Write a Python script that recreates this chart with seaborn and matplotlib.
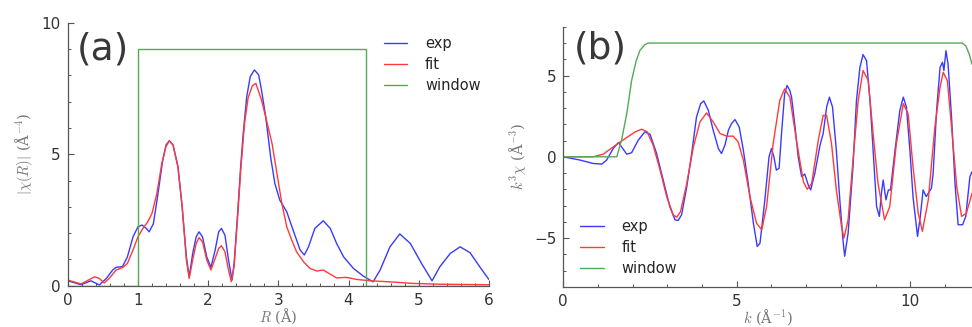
import numpy as np
import pandas as pd
import matplotlib
matplotlib.use("Agg")
import matplotlib.pyplot as plt
from matplotlib.ticker import MultipleLocator
import seaborn as sns

# ---- panel (a): |chi(R)| ----
r_exp = [0, 0.19, 0.33, 0.45, 0.55, 0.64, 0.69, 0.78, 0.85, 0.93, 1.0, 1.06, 1.12, 1.16, 1.22,
         1.28, 1.35, 1.40, 1.447, 1.50, 1.57, 1.63, 1.69, 1.73, 1.78, 1.83, 1.87, 1.92, 1.98,
         2.04, 2.10, 2.15, 2.19, 2.24, 2.29, 2.34, 2.37, 2.42, 2.46, 2.50, 2.55, 2.60, 2.66,
         2.72, 2.76, 2.82, 2.89, 2.95, 3.02, 3.12, 3.21, 3.31, 3.37, 3.43, 3.52, 3.64, 3.74,
         3.83, 3.93, 4.07, 4.21, 4.35, 4.45, 4.59, 4.73, 4.88, 5.04, 5.19, 5.30, 5.45, 5.59,
         5.73, 5.87, 6.0]
chir_exp = [0.19, 0.04, 0.19, 0.03, 0.28, 0.6, 0.7, 0.73, 1.10, 1.86, 2.24, 2.31, 2.18, 2.05, 2.36,
            3.40, 4.72, 5.35, 5.51, 5.35, 4.52, 3.0, 1.1, 0.34, 1.23, 1.86, 2.05, 1.86, 1.10,
            0.70, 1.36, 2.05, 2.18, 1.92, 0.98, 0.22, 0.85, 2.75, 4.4, 5.79, 7.19, 7.95, 8.2,
            8.01, 7.44, 6.43, 4.90, 3.89, 3.26, 2.81, 2.12, 1.36, 1.17, 1.48, 2.18, 2.47, 2.18,
            1.61, 1.10, 0.66, 0.37, 0.15, 0.60, 1.48, 1.97, 1.61, 0.85, 0.19, 0.72, 1.23, 1.48,
            1.26, 0.72, 0.24]
r_fit = [0, 0.19, 0.38, 0.45, 0.52, 0.59, 0.69, 0.78, 0.85, 0.93, 1.0, 1.07, 1.14, 1.20, 1.27,
         1.34, 1.40, 1.447, 1.50, 1.57, 1.63, 1.69, 1.73, 1.78, 1.83, 1.87, 1.92, 1.98, 2.04,
         2.10, 2.15, 2.19, 2.24, 2.29, 2.33, 2.37, 2.42, 2.47, 2.52, 2.57, 2.63, 2.68, 2.76,
         2.83, 2.91, 2.98, 3.05, 3.12, 3.19, 3.26, 3.36, 3.45, 3.55, 3.64, 3.74, 3.83, 3.97,
         4.12, 4.31, 4.59, 4.92, 5.30, 6.0]
chir_fit = [0.22, 0.07, 0.34, 0.28, 0.11, 0.28, 0.6, 0.69, 0.85, 1.36, 1.86, 2.18, 2.43, 2.75, 3.51,
            4.65, 5.29, 5.51, 5.35, 4.52, 3.0, 0.98, 0.28, 0.98, 1.61, 1.83, 1.67, 0.98, 0.6,
            1.04, 1.42, 1.52, 1.29, 0.6, 0.16, 0.72, 2.6, 4.6, 6.2, 7.15, 7.6, 7.69, 7.06,
            6.30, 5.41, 4.27, 3.13, 2.24, 1.74, 1.29, 0.91, 0.66, 0.56, 0.60, 0.44, 0.30, 0.32,
            0.24, 0.19, 0.15, 0.09, 0.06, 0.04]
r_win = [0, 1.0, 1.0, 4.25, 4.25, 6.0]
chir_win = [0, 0, 9, 9, 0, 0]

# ---- panel (b): k^3 chi(k) ----
k_exp = [0, 0.48, 0.86, 1.11, 1.25, 1.44, 1.59, 1.68, 1.83, 1.97, 2.16, 2.35, 2.50, 2.69, 2.88,
         3.07, 3.22, 3.31, 3.41, 3.56, 3.70, 3.84, 3.96, 4.05, 4.18, 4.32, 4.47, 4.56, 4.66,
         4.76, 4.85, 4.95, 5.07, 5.19, 5.33, 5.48, 5.59, 5.67, 5.81, 5.93, 6.0, 6.07, 6.14,
         6.22, 6.29, 6.38, 6.45, 6.53, 6.58, 6.68, 6.77, 6.87, 6.96, 7.06, 7.13, 7.25, 7.40,
         7.49, 7.59, 7.67, 7.76, 7.87, 7.97, 8.06, 8.11, 8.21, 8.35, 8.45, 8.55, 8.64, 8.74,
         8.84, 8.93, 9.03, 9.11, 9.17, 9.22, 9.30, 9.37, 9.43, 9.55, 9.70, 9.80, 9.89, 9.99,
         10.08, 10.21, 10.29, 10.37, 10.46, 10.61, 10.66, 10.76, 10.86, 10.93, 10.97, 11.03,
         11.09, 11.19, 11.29, 11.38, 11.51, 11.60, 11.72, 11.78]
kchi_exp = [0, -0.2, -0.41, -0.45, -0.2, 0.51, 0.88, 0.61, 0.16, 0.25, 1.02, 1.53, 1.39, 0.2, -1.43,
            -3.07, -3.88, -3.92, -3.57, -1.84, 0.2, 2.45, 3.27, 3.44, 2.86, 1.64, 0.51, 0.2, 0.72,
            1.64, 2.05, 2.29, 1.84, 0.41, -1.63, -4.09, -5.52, -5.31, -2.65, 0.0, 0.51, 0.0, -0.82,
            -0.71, 1.43, 3.88, 4.39, 4.08, 3.67, 1.84, 0.0, -1.22, -1.06, -1.73, -2.04, -1.02, 0.71,
            1.43, 3.06, 3.67, 3.06, 0.41, -2.65, -5.1, -6.12, -4.69, -0.61, 3.47, 5.51, 6.29, 5.92,
            3.47, 0.41, -3.06, -3.67, -2.24, -1.43, -2.65, -2.04, -2.04, 0.2, 2.86, 3.67, 3.06, 0.41,
            -2.45, -4.9, -3.67, -2.04, -2.45, -1.94, -1.02, 2.86, 5.51, 5.82, 5.31, 6.53,
            5.71, 2.45, -1.63, -4.18, -4.18, -3.67, -1.22, -0.92]
k_fit = [0, 0.86, 1.15, 1.44, 1.83, 2.07, 2.26, 2.42, 2.59, 2.79, 2.98, 3.17, 3.27, 3.38, 3.56,
         3.75, 3.94, 4.13, 4.32, 4.52, 4.71, 4.90, 5.04, 5.19, 5.38, 5.57, 5.72, 5.86, 6.05,
         6.24, 6.38, 6.53, 6.72, 6.92, 7.03, 7.16, 7.35, 7.49, 7.59, 7.73, 7.87, 8.02, 8.09,
         8.21, 8.35, 8.50, 8.64, 8.79, 8.93, 9.07, 9.26, 9.41, 9.60, 9.80, 9.94, 10.08, 10.23,
         10.35, 10.52, 10.71, 10.86, 10.95, 11.07, 11.19, 11.34, 11.48, 11.62, 11.78]
kchi_fit = [0, 0, 0.16, 0.61, 1.19, 1.53, 1.70, 1.53, 0.72, -0.82, -2.45, -3.58, -3.72, -3.37, -1.63,
            0.61, 2.15, 2.70, 2.15, 1.43, 1.27, 1.27, 0.92, -0.2, -2.45, -4.09, -4.49, -3.06, 0.82,
            3.47, 4.18, 3.67, 1.02, -1.53, -2.0, -1.63, 1.02, 2.55, 2.55, 0.82, -2.04, -4.29, -5.0,
            -3.88, -0.2, 3.47, 5.31, 4.69, 1.43, -1.63, -3.88, -3.06, 0.82, 3.27, 2.65, -0.61, -3.47,
            -4.59, -2.65, 1.84, 4.29, 5.2, 4.69, 1.84, -1.84, -3.67, -3.47, -2.24]
k_win = [0, 1.54, 1.68, 1.83, 1.97, 2.10, 2.21, 2.35, 2.45, 11.5, 11.6, 11.7, 11.78]
kchi_win = [0, 0, 1.02, 2.66, 4.7, 5.9, 6.55, 6.9, 7.0, 7.0, 6.83, 6.33, 5.7]

labels = ["exp", "fit", "window"]
colors = {"exp": "#3a3aff", "fit": "#ff3a3a", "window": "#55aa55"}


def long_df(xs, ys):
    parts = []
    for name, x, y in zip(labels, xs, ys):
        parts.append(pd.DataFrame({"x": x, "y": y, "series": name}))
    return pd.concat(parts, ignore_index=True)


df_a = long_df([r_exp, r_fit, r_win], [chir_exp, chir_fit, chir_win])
df_b = long_df([k_exp, k_fit, k_win], [kchi_exp, kchi_fit, kchi_win])

sns.set_style("ticks")
plt.rcParams["mathtext.fontset"] = "cm"
plt.rcParams["font.family"] = ["DejaVu Sans"]

fig = plt.figure(figsize=(9.72, 3.27), dpi=100)
ax1 = fig.add_axes([0.0697, 0.126, 0.4333, 0.805])
ax2 = fig.add_axes([0.5795, 0.123, 0.4205, 0.795])

tick_col = "#333333"
label_col = "#777777"
lab_kw = dict(color=label_col, fontsize=10.5, family="DejaVu Serif")

for ax, df in [(ax1, df_a), (ax2, df_b)]:
    sns.lineplot(data=df, x="x", y="y", hue="series", units="series", estimator=None,
                 sort=False, palette=colors, linewidth=1.0, ax=ax)
    ax.spines["top"].set_visible(False)
    ax.spines["right"].set_visible(False)
    for s in ["left", "bottom"]:
        ax.spines[s].set_color("#555555")
        ax.spines[s].set_linewidth(0.9)
    ax.tick_params(which="major", direction="in", length=4, width=0.8, colors="#555555",
                   labelcolor=tick_col, labelsize=11, pad=5)
    ax.tick_params(which="minor", direction="in", length=2.5, width=0.7, colors="#555555")

ax1.set_xlim(0, 6)
ax1.set_ylim(0, 10)
ax1.xaxis.set_major_locator(MultipleLocator(1))
ax1.xaxis.set_minor_locator(MultipleLocator(0.2))
ax1.yaxis.set_major_locator(MultipleLocator(5))
ax1.yaxis.set_minor_locator(MultipleLocator(1))
ax1.set_xlabel(r"$R$ (Å)", labelpad=-1, **lab_kw)
ax1.set_ylabel(r"$|\chi(R)|$ (Å$^{-4}$)", labelpad=5, **lab_kw)
ax1.text(0.022, 0.965, "(a)", transform=ax1.transAxes, fontsize=27, color="#383838",
         va="top", ha="left")
ax1.legend(loc="upper left", bbox_to_anchor=(0.72, 1.0), frameon=False, fontsize=10.5,
           handlelength=1.6, handletextpad=1.2, labelspacing=0.42)

ax2.set_xlim(0, 11.78)
ax2.set_ylim(-8, 8)
ax2.xaxis.set_major_locator(MultipleLocator(5))
ax2.xaxis.set_minor_locator(MultipleLocator(1))
ax2.yaxis.set_major_locator(MultipleLocator(5))
ax2.yaxis.set_minor_locator(MultipleLocator(1))
ax2.set_xlabel(r"$k$ (Å$^{-1}$)", labelpad=-1, **lab_kw)
ax2.set_ylabel(r"$k^3\chi$ (Å$^{-3}$)", labelpad=4, **lab_kw)
ax2.text(0.025, 0.985, "(b)", transform=ax2.transAxes, fontsize=27, color="#383838",
         va="top", ha="left")
ax2.legend(loc="lower left", bbox_to_anchor=(0.01, -0.01), frameon=False, fontsize=10.5,
           handlelength=1.6, handletextpad=1.2, labelspacing=0.42)

fig.savefig("out.png", dpi=100)
